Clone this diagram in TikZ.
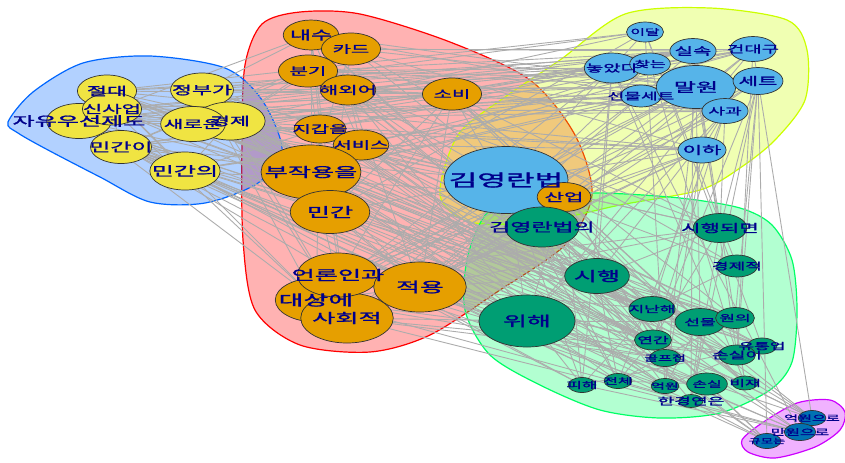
\documentclass[tikz,border=0pt]{standalone}
\usepackage{fontspec}
\newfontfamily\kr{Noto Sans CJK KR}[FakeBold=1.2]
\definecolor{hullred}{HTML}{FF0000}
\definecolor{hullyellow}{HTML}{CCFF00}
\definecolor{hullgreen}{HTML}{00FF66}
\definecolor{hullblue}{HTML}{0066FF}
\definecolor{hullmagenta}{HTML}{CC00FF}
\definecolor{kwyellow}{HTML}{F0E442}
\definecolor{kworange}{HTML}{E69F00}
\definecolor{kwsky}{HTML}{56B4E9}
\definecolor{kwgreen}{HTML}{009E73}
\definecolor{kwblue}{HTML}{0072B2}
\definecolor{labelblue}{HTML}{00008B}
\definecolor{linkgray}{RGB}{172,172,172}
\pgfdeclarelayer{hulls}
\pgfdeclarelayer{links}
\pgfsetlayers{hulls,links,main}
\tikzset{
  % Community hull (#1 = rainbow hue, filled at 30%).
  hull/.style={draw=#1, fill=#1, fill opacity=0.3, line width=0.6pt},
  % Keyword vertex, stretched like the source image.
  kw/.style={circle, draw=black!80, line width=0.35pt, inner sep=0pt, xscale=1.85},
  kw-yellow/.style={kw, fill=kwyellow},
  kw-orange/.style={kw, fill=kworange},
  kw-sky/.style={kw, fill=kwsky},
  kw-green/.style={kw, fill=kwgreen},
  kw-blue/.style={kw, fill=kwblue},
  % Vertex label, drawn after all vertices.
  kw-label/.style={inner sep=0pt, xscale=1.85, text=labelblue},
  % Co-occurrence link.
  link/.style={draw=linkgray, line width=0.45pt},
}
% name/weight, for the links
\def\kwlist{jeoldae/1.3, sinsaeop/1.3, jayu/1.4, mingani/1.3, jeongbu/1.4, gyeongje/1.5, saeroun/1.4, minganui/1.5,
  naesu/1.3, kadeu/1.3, bungi/1.3, haeoe/1.3, sobi/1.3, jigap/1.3, seobiseu/1.3, bujak/1.8, mingan/1.6, eollon/1.6,
  daesang/1.6, sahoe/1.7, jeogyong/1.7, saneop/1.3,
  gimyr/2.0, idal/1.1, silsok/1.2, geondae/1.2, noat/1.3, chatneun/1.1, malwon/1.6, seteu/1.2, seonmulset/1.1,
  sagwa/1.2, iha/1.2,
  gimyrui/1.5, sihaengdoe/1.3, gyeongjejeok/1.1, sihaeng/1.4, jinanhae/1.2, wihae/1.7, seonmul/1.2, wonui/1.1,
  yeongan/1.1, golpeu/1.0, sonsiri/1.1, yutong/1.0, jeonche/1.0, pihae/1.0, eogwon/1.0, sonsil/1.1, bijae/1.0,
  hangyeong/1.0, eogwoneuro/1.0, manwoneuro/1.0, gyumo/1.0}
\begin{document}
\begin{tikzpicture}[x=0.5pt, y=-0.5pt]
  \useasboundingbox (0,0) rectangle (845,462);

  % Community hulls.
  \begin{pgfonlayer}{hulls}
    \draw[hull=hullred] plot[smooth cycle] coordinates {(245,65) (262,24) (300,12) (360,14) (450,42) (530,80)
      (575,135) (592,195) (565,245) (500,290) (430,335) (370,352) (300,345) (255,310) (243,240) (242,140)};
    \draw[hull=hullyellow] plot[smooth cycle] coordinates {(440,195) (458,135) (505,97) (560,60) (625,14)
      (710,8) (787,20) (807,50) (805,100) (775,140) (740,168) (700,190) (620,205) (540,222) (470,222)};
    \draw[hull=hullgreen] plot[smooth cycle] coordinates {(468,255) (490,210) (540,196) (600,193) (680,198)
      (740,208) (772,225) (792,260) (797,310) (792,362) (770,390) (720,413) (660,418) (600,410) (540,385)
      (490,355) (465,310)};
    \draw[hull=hullblue] plot[smooth cycle] coordinates {(8,122) (33,92) (83,63) (150,56) (225,68) (262,100)
      (282,150) (258,183) (205,203) (150,202) (100,177) (48,150) (18,133)};
    \draw[hull=hullmagenta] plot[smooth cycle] coordinates {(742,440) (762,423) (797,403) (830,400) (845,412)
      (840,430) (815,447) (775,458) (748,452)};
  \end{pgfonlayer}

  % Left community (yellow).
  \node[kw-yellow, minimum size=16pt] (jeoldae) at (107,91) {};
  \node[kw-yellow, minimum size=17.5pt] (jayu) at (79,121) {};
  \node[kw-yellow, minimum size=16pt] (sinsaeop) at (112,109) {};
  \node[kw-yellow, minimum size=16.5pt] (mingani) at (121,147) {};
  \node[kw-yellow, minimum size=17pt] (jeongbu) at (202,90) {};
  \node[kw-yellow, minimum size=19pt] (gyeongje) at (230,121) {};
  \node[kw-yellow, minimum size=17.5pt] (saeroun) at (193,124) {};
  \node[kw-yellow, minimum size=19pt] (minganui) at (185,171) {};

  % Red community (orange).
  \node[kw-orange, minimum size=15pt] (naesu) at (311,35) {};
  \node[kw-orange, minimum size=16pt] (kadeu) at (351,49) {};
  \node[kw-orange, minimum size=16pt] (bungi) at (308,71) {};
  \node[kw-orange, minimum size=15pt] (haeoe) at (348,90) {};
  \node[kw-orange, minimum size=16pt] (sobi) at (452,94) {};
  \node[kw-orange, minimum size=14pt] (jigap) at (320,129) {};
  \node[kw-orange, minimum size=15pt] (seobiseu) at (361,145) {};
  \node[kw-orange, minimum size=27pt] (bujak) at (311,172) {};
  \node[kw-orange, minimum size=21.5pt] (mingan) at (330,212) {};
  \node[kw-orange, minimum size=22pt] (daesang) at (316,300) {};
  \node[kw-orange, minimum size=25pt] (sahoe) at (347,318) {};
  \node[kw-orange, minimum size=22pt] (eollon) at (338,275) {};
  \node[kw-orange, minimum size=25pt] (jeogyong) at (420,287) {};

  % Top right community (sky blue).
  \node[kw-sky, minimum size=33.5pt] (gimyr) at (506,180) {};
  \node[kw-sky, minimum size=10pt] (idal) at (645,32) {};
  \node[kw-sky, minimum size=12.5pt] (silsok) at (693,51) {};
  \node[kw-sky, minimum size=12.5pt] (geondae) at (753,49) {};
  \node[kw-sky, minimum size=15pt] (noat) at (612,68) {};
  \node[kw-sky, minimum size=11pt] (chatneun) at (650,64) {};
  \node[kw-sky, minimum size=11pt] (seonmulset) at (641,96) {};
  \node[kw-sky, minimum size=21.5pt] (malwon) at (696,87) {};
  \node[kw-sky, minimum size=13.5pt] (seteu) at (758,81) {};
  \node[kw-sky, minimum size=12.5pt] (sagwa) at (725,111) {};
  \node[kw-sky, minimum size=13pt] (iha) at (702,150) {};
  \node[kw-orange, minimum size=14.5pt] (saneop) at (564,197) {};

  % Bottom right community (green).
  \node[kw-green, minimum size=20pt] (gimyrui) at (542,227) {};
  \node[kw-green, minimum size=14.5pt] (sihaengdoe) at (720,228) {};
  \node[kw-green, minimum size=11pt] (gyeongjejeok) at (737,266) {};
  \node[kw-green, minimum size=17.5pt] (sihaeng) at (597,276) {};
  \node[kw-green, minimum size=26pt] (wihae) at (527,321) {};
  \node[kw-green, minimum size=12.5pt] (jinanhae) at (652,309) {};
  \node[kw-green, minimum size=13.5pt] (seonmul) at (700,322) {};
  \node[kw-green, minimum size=10.5pt] (wonui) at (735,318) {};
  \node[kw-green, minimum size=10pt] (yeongan) at (653,340) {};
  \node[kw-green, minimum size=8.5pt] (golpeu) at (665,358) {};
  \node[kw-green, minimum size=8pt] (yutong) at (762,346) {};
  \node[kw-green, minimum size=10pt] (sonsiri) at (737,355) {};
  \node[kw-green, minimum size=7.5pt] (pihae) at (582,385) {};
  \node[kw-green, minimum size=7.5pt] (jeonche) at (618,381) {};
  \node[kw-green, minimum size=7.5pt] (eogwon) at (665,386) {};
  \node[kw-green, minimum size=6.5pt] (hangyeong) at (691,401) {};
  \node[kw-green, minimum size=11pt] (sonsil) at (707,384) {};
  \node[kw-green, minimum size=7pt] (bijae) at (745,383) {};

  % Purple community (blue).
  \node[kw-blue, minimum size=7.5pt] (eogwoneuro) at (812,418) {};
  \node[kw-blue, minimum size=8.5pt] (manwoneuro) at (800,432) {};
  \node[kw-blue, minimum size=7.5pt] (gyumo) at (767,441) {};

  % Links, behind the vertices.
  \pgfmathsetseed{2017}
  \begin{pgfonlayer}{links}
    \foreach \a/\wa [count=\i] in \kwlist {
      \foreach \b/\wb [count=\j] in \kwlist {
        \ifnum\j>\i
          \pgfmathtruncatemacro\hit{rnd < 0.14*\wa*\wb}
          \ifnum\hit=1 \draw[link] (\a.center) -- (\b.center); \fi
        \fi
      }
    }
  \end{pgfonlayer}

  % Labels on top of every vertex.
  \foreach \nm/\fs/\tx in {jeoldae/5.9/절대, jayu/6.5/자유우선제도, sinsaeop/5.7/신사업, mingani/6.2/민간이,
      jeongbu/5.9/정부가, gyeongje/5.9/경제, saeroun/5.7/새로운, minganui/6.5/민간의,
      naesu/6.2/내수, kadeu/5.4/카드, bungi/5.4/분기, haeoe/5.7/해외어, sobi/5.4/소비, jigap/5.4/지갑을,
      seobiseu/5.4/서비스, bujak/6.8/부작용을, mingan/6.8/민간, eollon/6.8/언론인과, daesang/7.3/대상에,
      sahoe/6.8/사회적, jeogyong/7.0/적용, saneop/5.7/산업,
      gimyr/8.4/김영란법, idal/4.3/이달, silsok/5.4/실속, geondae/5.1/건대구, noat/5.1/놓았다, chatneun/4.6/찾는,
      seonmulset/4.9/선물세트, malwon/6.5/말원, seteu/5.7/세트, sagwa/4.9/사과, iha/5.7/이하,
      gimyrui/6.2/김영란법의, sihaengdoe/5.7/시행되면, gyeongjejeok/4.9/경제적, sihaeng/6.8/시행, wihae/7.0/위해,
      jinanhae/4.6/지난해, seonmul/4.6/선물, wonui/4.6/원의, yeongan/4.6/연간, golpeu/4.1/골프접,
      yutong/4.6/유통업, sonsiri/4.9/손실이, pihae/4.6/피해, jeonche/4.3/전체, eogwon/4.1/억원,
      hangyeong/4.9/한경연은, sonsil/4.3/손실, bijae/4.6/비재,
      eogwoneuro/4.1/억원으로, manwoneuro/4.3/만원으로, gyumo/3.6/규모는}
    \node[kw-label, font=\kr\fontsize{\fs}{\fs}\selectfont] at (\nm) {\tx};

\end{tikzpicture}
\end{document}
